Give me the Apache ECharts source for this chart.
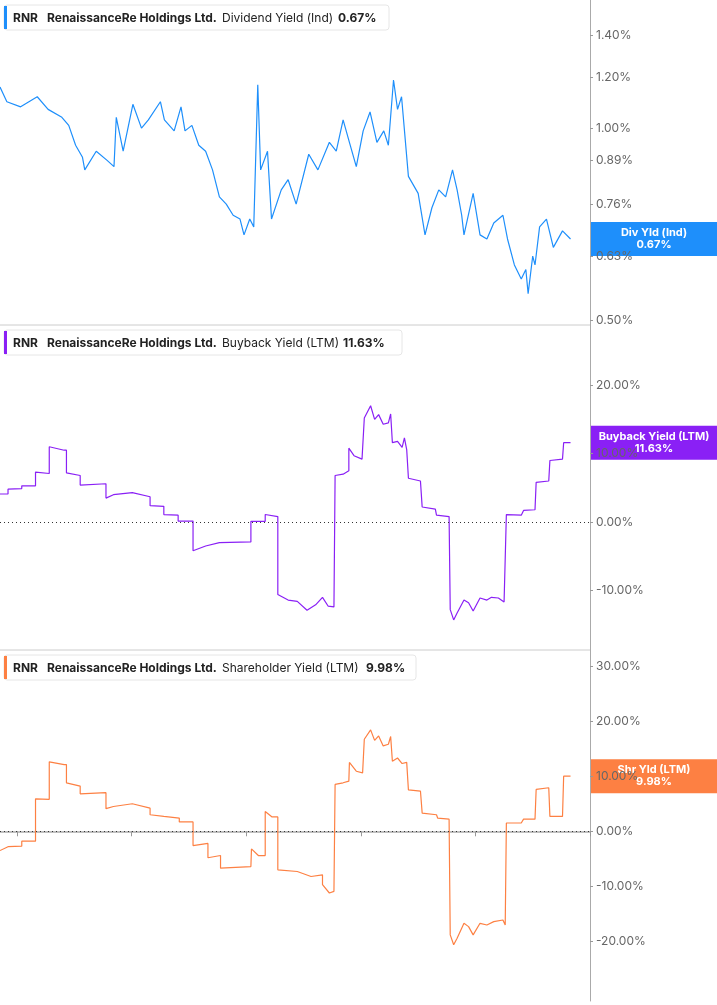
<!DOCTYPE html>
<html><head><meta charset="utf-8">
<script src="https://cdn.jsdelivr.net/npm/echarts@6/dist/echarts.min.js"></script>
<style>html,body{margin:0;padding:0;background:#fff}#c{width:717px;height:1005px}</style>
</head><body><div id="c"></div>
<script>
// ---- data (dates as decimal years) ----
const divDates = [2015.70,2015.82,2016.06,2016.35,2016.54,2016.78,2016.90,2017.02,2017.14,2017.18,2017.38,2017.57,2017.69,2017.73,2017.85,2018.02,2018.17,2018.29,2018.50,2018.57,2018.74,2018.86,2018.93,2019.05,2019.17,2019.29,2019.41,2019.53,2019.65,2019.77,2019.89,2019.96,2020.06,2020.13,2020.20,2020.25,2020.37,2020.44,2020.61,2020.73,2020.87,2021.09,2021.25,2021.45,2021.57,2021.69,2021.80,2021.92,2022.04,2022.16,2022.28,2022.40,2022.48,2022.57,2022.64,2022.71,2022.83,2023.00,2023.12,2023.24,2023.36,2023.48,2023.60,2023.68,2023.76,2023.80,2023.96,2024.08,2024.20,2024.32,2024.48,2024.56,2024.68,2024.80,2024.88,2024.92,2025.00,2025.04,2025.12,2025.24,2025.36,2025.52,2025.66];
const divValues = [1.16,1.10,1.08,1.12,1.07,1.04,1.01,0.94,0.90,0.86,0.92,0.89,0.87,1.04,0.92,1.09,1.00,1.03,1.10,1.03,0.99,1.08,0.99,1.01,0.94,0.92,0.86,0.78,0.76,0.73,0.72,0.68,0.72,0.70,1.17,0.86,0.92,0.72,0.80,0.83,0.76,0.91,0.86,0.95,0.92,1.03,0.95,0.87,0.99,1.06,0.95,0.99,0.94,1.19,1.07,1.12,0.84,0.79,0.68,0.75,0.80,0.78,0.86,0.80,0.73,0.68,0.79,0.68,0.67,0.71,0.73,0.67,0.61,0.58,0.60,0.55,0.63,0.61,0.70,0.72,0.65,0.69,0.67];

const bbDates = [2015.70,2015.84,2015.84,2016.08,2016.08,2016.32,2016.32,2016.56,2016.56,2016.82,2016.86,2016.86,2017.10,2017.10,2017.55,2017.55,2017.68,2018.01,2018.32,2018.32,2018.56,2018.56,2018.81,2018.81,2019.07,2019.07,2019.29,2019.53,2020.08,2020.08,2020.33,2020.33,2020.55,2020.55,2020.73,2020.89,2021.06,2021.21,2021.33,2021.43,2021.53,2021.55,2021.69,2021.79,2021.79,2021.88,2022.02,2022.06,2022.17,2022.24,2022.31,2022.39,2022.48,2022.52,2022.55,2022.64,2022.72,2022.76,2022.80,2022.83,2023.04,2023.07,2023.30,2023.32,2023.54,2023.56,2023.62,2023.68,2023.80,2023.88,2023.96,2024.08,2024.20,2024.28,2024.40,2024.50,2024.54,2024.80,2024.84,2025.04,2025.06,2025.28,2025.30,2025.52,2025.54,2025.66];
const bbValues = [4.1,4.1,4.8,4.9,5.3,5.3,7.3,7.1,11.0,10.5,10.5,7.2,6.8,5.4,5.6,3.5,4.0,4.3,3.7,2.4,2.3,1.1,1.0,0.15,0.15,-4.2,-3.5,-3.0,-2.9,0.1,0.1,1.1,0.8,-10.6,-11.4,-11.6,-12.9,-12.1,-11.0,-12.3,-12.4,6.8,7.0,7.5,10.8,9.7,9.2,15.2,17.0,15.0,15.7,14.3,14.5,15.8,11.6,11.8,10.9,12.3,10.6,6.4,6.0,2.2,1.9,1.0,0.8,-12.8,-14.3,-13.3,-11.4,-11.8,-13.0,-11.1,-11.4,-11.0,-11.1,-11.7,1.1,1.0,1.7,1.8,5.8,6.0,9.0,9.2,11.6,11.6];

const shDates = [2015.70,2015.84,2016.08,2016.08,2016.32,2016.32,2016.56,2016.56,2016.82,2016.86,2016.86,2017.10,2017.10,2017.55,2017.55,2017.68,2018.01,2018.32,2018.32,2018.56,2018.56,2018.83,2018.83,2019.07,2019.07,2019.33,2019.33,2019.55,2019.55,2020.08,2020.09,2020.21,2020.33,2020.33,2020.45,2020.55,2020.55,2020.89,2021.13,2021.33,2021.33,2021.45,2021.53,2021.55,2021.69,2021.79,2021.80,2021.92,2022.03,2022.06,2022.17,2022.24,2022.31,2022.39,2022.48,2022.52,2022.55,2022.64,2022.72,2022.80,2022.83,2023.04,2023.07,2023.32,2023.34,2023.54,2023.56,2023.62,2023.68,2023.80,2023.88,2023.96,2024.08,2024.20,2024.32,2024.48,2024.52,2024.54,2024.80,2024.84,2025.04,2025.06,2025.28,2025.30,2025.52,2025.54,2025.66];
const shValues = [-3.5,-2.8,-2.7,-1.8,-1.8,5.9,5.8,12.6,12.1,12.1,8.8,8.2,6.8,7.0,4.1,4.5,5.0,4.2,3.0,2.7,2.4,2.4,1.7,1.7,-2.6,-2.2,-4.8,-4.4,-6.7,-6.4,-3.2,-4.4,-4.4,3.6,2.6,2.6,-7.0,-7.3,-8.2,-7.9,-9.7,-11.2,-10.9,8.5,8.8,9.1,12.5,10.9,10.6,16.7,18.4,16.5,17.3,15.5,15.8,17.2,12.7,13.3,12.3,12.5,7.5,7.3,3.3,3.0,2.4,2.2,-18.8,-20.6,-19.4,-16.7,-17.3,-18.8,-16.7,-17.0,-16.4,-16.1,-17.0,1.5,1.5,2.2,2.2,7.6,7.9,2.7,2.7,10.0,10.0];

const yearTicks = [2016,2018,2020,2022,2024,2026];
const divTicks = [0.50,0.63,0.76,0.89,1.00,1.20,1.40];
const bbTicks = [-10,0,10,20];
const shTicks = [-20,-10,0,10,20,30];

const colors = ['#1e8ffb','#8a20f5','#fd8043'];
const legends = [
  ['RNR','RenaissanceRe Holdings Ltd.','Dividend Yield (Ind)','0.67%'],
  ['RNR','RenaissanceRe Holdings Ltd.','Buyback Yield (LTM)','11.63%'],
  ['RNR','RenaissanceRe Holdings Ltd.','Shareholder Yield (LTM)','9.98%']
];
const tags = [['Div Yld (Ind)','0.67%'],['Buyback Yield (LTM)','11.63%'],['Shr Yld (LTM)','9.98%']];

const chart = echarts.init(document.getElementById('c'));
const F = 'Inter, "Noto Sans", sans-serif';
const grids = [
  {left:0, right:127, top:0, height:325, outerBoundsMode:'none', containLabel:false},
  {left:0, right:127, top:325, height:325, outerBoundsMode:'none', containLabel:false},
  {left:0, right:127, top:650, height:351, outerBoundsMode:'none', containLabel:false}
];
const xAxes = [0,1,2].map(i => ({
  type:'value', gridIndex:i, min:2015.70, max:2026.0,
  axisLine:{show:i===2, lineStyle:{color:'#aaa', width:1.5}},
  axisTick:{show:i===2, customValues:yearTicks, length:5, lineStyle:{color:'#999'}},
  axisLabel:{show:i===2, customValues:yearTicks, color:'#666', fontWeight:'bold', fontSize:12, fontFamily:F, margin:8,
    formatter: v => String(Math.round(v))},
  splitLine:{show:false}
}));
const yCommon = {position:'right', axisLine:{show:true, lineStyle:{color:'#aaa'}}, splitLine:{show:false}};
const lnTicks = divTicks.map(v => Math.log(v));
const yAxes = [
  Object.assign({}, yCommon, {type:'value', gridIndex:0, min:Math.log(0.5)-5/277, max:Math.log(1.4)+35/277,
    axisTick:{show:true, length:3, customValues:lnTicks, lineStyle:{color:'#999'}},
    axisLabel:{customValues:lnTicks, color:'#666', fontSize:12, fontFamily:F, margin:6,
      formatter: v => Math.exp(v).toFixed(2)+'%'}}),
  Object.assign({}, yCommon, {type:'value', gridIndex:1, min:-18.7, max:28.8,
    axisTick:{show:true, length:3, customValues:bbTicks, lineStyle:{color:'#999'}},
    axisLabel:{customValues:bbTicks, color:'#666', fontSize:12, fontFamily:F, margin:6, formatter: v => v.toFixed(2)+'%'}}),
  Object.assign({}, yCommon, {type:'value', gridIndex:2, min:-30.8, max:32.9,
    axisTick:{show:true, length:3, customValues:shTicks, lineStyle:{color:'#999'}},
    axisLabel:{customValues:shTicks, color:'#666', fontSize:12, fontFamily:F, margin:6, formatter: v => v.toFixed(2)+'%'}})
];
const zeroLine = {silent:true, symbol:'none', label:{show:false}, lineStyle:{color:'#333', type:[1,3], width:1}, data:[{yAxis:0}]};
const series = [
  {type:'line', xAxisIndex:0, yAxisIndex:0, showSymbol:false, lineStyle:{color:colors[0], width:1.2},
    data: divDates.map((d,i)=>[d, Math.log(divValues[i])])},
  {type:'line', xAxisIndex:1, yAxisIndex:1, showSymbol:false, lineStyle:{color:colors[1], width:1.2},
    data: bbDates.map((d,i)=>[d, bbValues[i]]), markLine:zeroLine},
  {type:'line', xAxisIndex:2, yAxisIndex:2, showSymbol:false, lineStyle:{color:colors[2], width:1.2},
    data: shDates.map((d,i)=>[d, shValues[i]]), markLine:zeroLine}
];
chart.setOption({animation:false, grid:grids, xAxis:xAxes, yAxis:yAxes, series:series});

// overlays
const g = [];
[325,650].forEach(y => g.push({type:'line', shape:{x1:0,y1:y,x2:590,y2:y}, style:{stroke:'#ccc', lineWidth:1}}));
const legendTops = [5,330,655];
const legendW = [385,398,412];
const valX = [338,343,366];
legends.forEach((L,i) => {
  const t = legendTops[i];
  g.push({type:'rect', shape:{x:4,y:t,width:legendW[i],height:25,r:3}, style:{fill:'#fff', stroke:'#e6e6e6', lineWidth:1}});
  g.push({type:'rect', shape:{x:4,y:t+1,width:3,height:23}, style:{fill:colors[i]}});
  g.push({type:'text', x:13, y:t+13, style:{text:L[0], fontFamily:F, fontSize:12, fontWeight:'bold', fill:'#222', verticalAlign:'middle'}});
  g.push({type:'text', x:47, y:t+13, style:{text:L[1], fontFamily:F, fontSize:12, fontWeight:'bold', fill:'#222', verticalAlign:'middle'}});
  g.push({type:'text', x:222, y:t+13, style:{text:L[2], fontFamily:F, fontSize:12, fill:'#222', verticalAlign:'middle'}});
  g.push({type:'text', x:valX[i], y:t+13, style:{text:L[3], fontFamily:F, fontSize:12, fontWeight:'bold', fill:'#222', verticalAlign:'middle'}});
});
const lastVals = [Math.log(divValues[divValues.length-1]), bbValues[bbValues.length-1], shValues[shValues.length-1]];
lastVals.forEach((v,i) => {
  const y = chart.convertToPixel({yAxisIndex:i}, v);
  g.push({type:'rect', shape:{x:591, y:y-17, width:126, height:34}, style:{fill:colors[i]}});
  g.push({type:'text', x:654, y:y, style:{text:tags[i][0]+'\n'+tags[i][1], fontFamily:F, fontSize:11, fontWeight:'bold', fill:'#fff', align:'center', verticalAlign:'middle', lineHeight:12}});
});
chart.setOption({graphic:g});
</script></body></html>
